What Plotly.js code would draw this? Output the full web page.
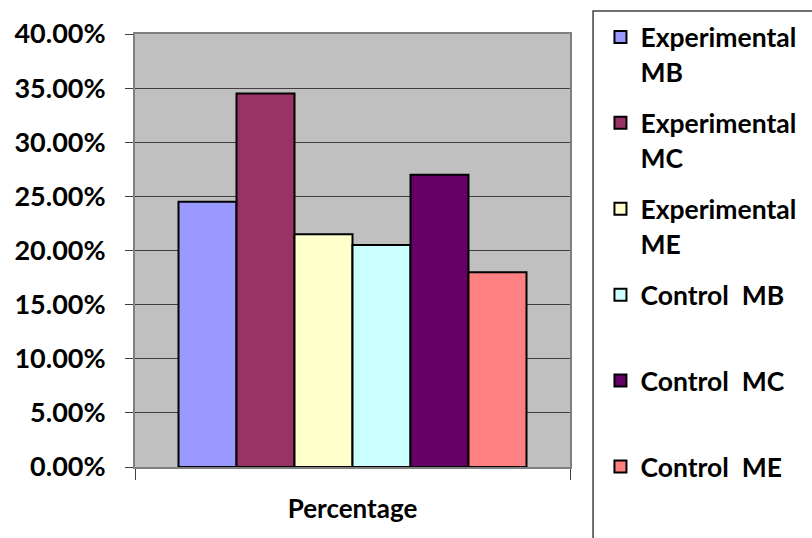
<!DOCTYPE html>
<html>
<head>
<meta charset="utf-8">
<script src="https://cdn.plot.ly/plotly-3.0.1.min.js"></script>
<style>html,body{margin:0;padding:0;background:#fff;}</style>
</head>
<body>
<div id="chart" style="width:812px;height:538px;"></div>
<script>
const categories = ["Percentage"];
const seriesNames = ["Experimental<br>MB", "Experimental<br>MC", "Experimental<br>ME", "Control  MB<br> ", "Control  MC<br> ", "Control  ME<br> "];
const seriesValues = [0.245, 0.345, 0.215, 0.205, 0.27, 0.18];
const seriesColors = ["#9999FF", "#993366", "#FFFFCC", "#CCFFFF", "#660066", "#FF8080"];
const yTickValues = [0, 0.05, 0.10, 0.15, 0.20, 0.25, 0.30, 0.35, 0.40];

const font = "Lato, 'Open Sans', sans-serif";

const traces = seriesNames.map((name, i) => ({
  type: "bar",
  name: name,
  x: categories,
  y: [seriesValues[i]],
  legendgroup: "g" + i,
  marker: { color: seriesColors[i], line: { color: "#000", width: 2 } },
  hoverinfo: "name+y"
}));

const layout = {
  width: 812,
  height: 538,
  margin: { l: 135, r: 242, t: 34, b: 71, autoexpand: false },
  paper_bgcolor: "#ffffff",
  plot_bgcolor: "#C0C0C0",
  barmode: "group",
  bargap: 0.2,
  bargroupgap: 0,
  font: { family: font, color: "#000", size: 26 },
  xaxis: {
    type: "category",
    showline: true, linecolor: "#808080", linewidth: 2, mirror: true,
    ticks: "outside", tickson: "boundaries", ticklen: 11, tickcolor: "#404040", tickwidth: 1,
    tickfont: { family: font, size: 26, color: "#000", weight: "bold" },
    ticklabelstandoff: 18,
    showgrid: false, zeroline: false
  },
  yaxis: {
    range: [0, 0.4],
    tickvals: yTickValues,
    tickformat: ".2%",
    showline: true, linecolor: "#808080", linewidth: 2, mirror: true,
    ticks: "outside", ticklen: 8, tickcolor: "#404040", tickwidth: 1,
    tickfont: { family: font, size: 27, color: "#000", weight: "bold" },
    ticklabelstandoff: 14,
    showgrid: true, gridcolor: "#404040", gridwidth: 1,
    zeroline: false
  },
  legend: {
    x: 1.07, xanchor: "left",
    y: 1.048, yanchor: "top",
    traceorder: "grouped",
    tracegroupgap: 14,
    valign: "top",
    maxheight: 600,
    bgcolor: "rgba(0,0,0,0)",
    borderwidth: 0,
    font: { family: font, size: 26.5, color: "#000", weight: "bold" },
    itemclick: false
  },
  shapes: [{
    type: "rect", xref: "paper", yref: "paper",
    x0: 1.053, x1: 2, y0: -1, y1: 1.053,
    line: { color: "#404040", width: 1.5 },
    fillcolor: "rgba(0,0,0,0)"
  }],
  showlegend: true
};

Plotly.newPlot("chart", traces, layout, { displayModeBar: false, staticPlot: true });
</script>
</body>
</html>
